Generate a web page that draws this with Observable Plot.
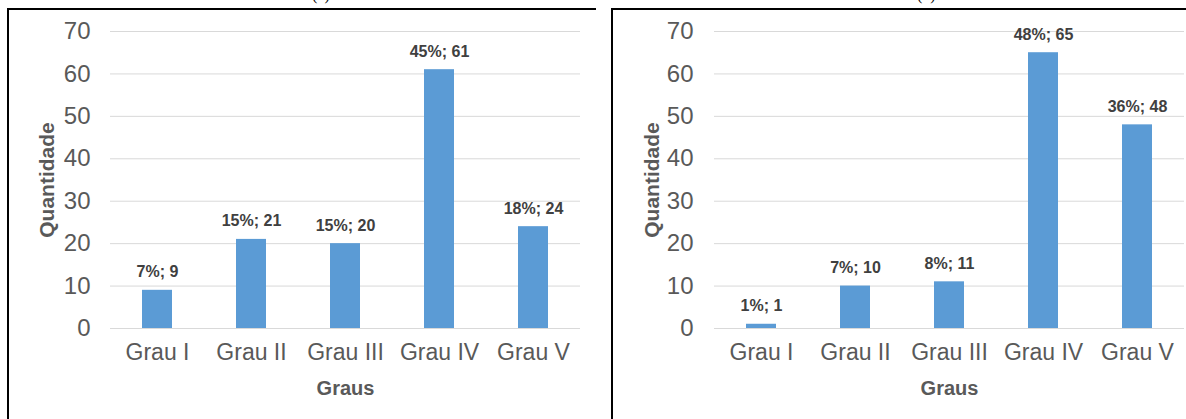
<!DOCTYPE html>
<html>
<head>
<meta charset="utf-8">
<script src="https://cdn.jsdelivr.net/npm/d3@7"></script>
<script src="https://cdn.jsdelivr.net/npm/@observablehq/plot@0.6"></script>
<style>
  html, body { margin: 0; padding: 0; background: #fff; }
  #page { position: relative; width: 1186px; height: 419px; overflow: hidden; background: #fff; }
  .panel { position: absolute; top: 0; }
  .bl { position: absolute; background: #000; }
  .cap { position: absolute; font-family: "Liberation Serif", "Times New Roman", serif; font-size: 16px; line-height: 16px; color: #000; }
</style>
</head>
<body>
<div id="page">
  <div class="cap" style="left:312px; top:-13px;">(a)</div>
  <div class="cap" style="left:917px; top:-13px;">(b)</div>
  <div id="left" class="panel" style="left:0px;"></div>
  <div id="right" class="panel" style="left:600px;"></div>
  <div class="bl" style="left:7px; top:8px; width:589px; height:2px;"></div>
  <div class="bl" style="left:7px; top:8px; width:2px; height:411px;"></div>
  <div class="bl" style="left:611px; top:8px; width:575px; height:2px;"></div>
  <div class="bl" style="left:611px; top:8px; width:2px; height:411px;"></div>
</div>
<script>
const categories = ["Grau I", "Grau II", "Grau III", "Grau IV", "Grau V"];
const valuesA = [9, 21, 20, 61, 24];
const pctA = [7, 15, 15, 45, 18];
const valuesB = [1, 10, 11, 65, 48];
const pctB = [1, 7, 8, 48, 36];
const yTicks = [0, 10, 20, 30, 40, 50, 60, 70];

const font = "'Liberation Sans', Arial, sans-serif";
const gray = "#595959";

function chart(values, pcts, opts) {
  const data = categories.map((c, i) => ({cat: c, v: values[i], p: pcts[i]}));
  return Plot.plot({
    width: opts.width,
    height: 419,
    marginLeft: opts.marginLeft,
    marginRight: opts.marginRight,
    marginTop: 31,
    marginBottom: 91,
    style: {fontFamily: font, background: "transparent", overflow: "visible"},
    x: {domain: categories, paddingInner: 0.686, paddingOuter: 0.343, label: null},
    y: {domain: [0, 70], label: null},
    marks: [
      Plot.gridY(yTicks, {stroke: "#d9d9d9", strokeOpacity: 1, strokeWidth: 1}),
      Plot.barY(data, {x: "cat", y: "v", fill: "#5b9bd5"}),
      Plot.text(data, {x: "cat", y: "v", text: d => `${d.p}%; ${d.v}`, dy: -13, lineAnchor: "bottom",
        fontWeight: "bold", fontSize: 16, fill: "#404040"}),
      Plot.axisX({tickSize: 0, tickPadding: 15, fontSize: 23, color: gray, label: null}),
      Plot.axisY(yTicks, {tickSize: 0, tickPadding: opts.ypad, fontSize: 24, color: gray, label: null}),
      Plot.text(["Quantidade"], {frameAnchor: "left", text: d => d, rotate: -90, dx: opts.qdx,
        textAnchor: "middle", lineAnchor: "middle", fontWeight: "bold", fontSize: 21, fill: gray}),
      Plot.text(["Graus"], {frameAnchor: "bottom", text: d => d, dy: 60, lineAnchor: "middle",
        textAnchor: "middle", fontWeight: "bold", fontSize: 20, fill: gray})
    ]
  });
}

document.getElementById("left").appendChild(chart(valuesA, pctA, {width: 600, marginLeft: 110, marginRight: 20, qdx: -63, ypad: 20}));
document.getElementById("right").appendChild(chart(valuesB, pctB, {width: 586, marginLeft: 114, marginRight: 2, qdx: -62, ypad: 21}));
</script>
</body>
</html>
